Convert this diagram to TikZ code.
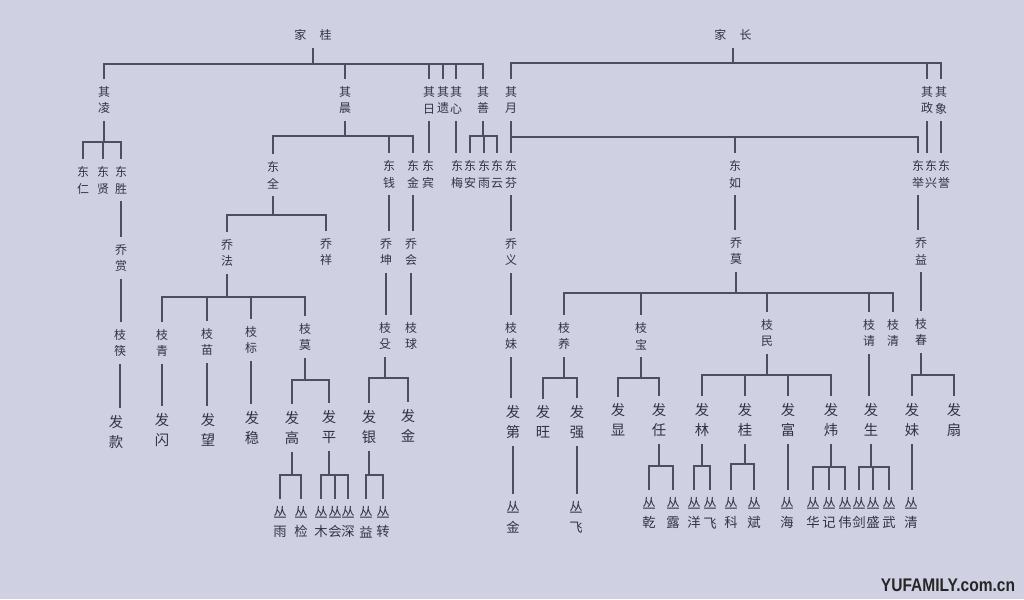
\documentclass[tikz,border=0pt]{standalone}
\usepackage{fontspec}
\setmainfont{Noto Sans CJK SC}
\newfontfamily\wmfont{Liberation Sans}
\usepackage{tikz}
\usetikzlibrary{positioning}
\definecolor{paperBlue}{RGB}{207, 209, 227}
\definecolor{inkGray}{RGB}{50, 50, 70}
\definecolor{lineGray}{RGB}{78, 78, 98}

\begin{document}
\begin{tikzpicture}[
    x=0.025cm, y=-0.025cm,
    % 上面几代的名字 (两字竖排)
    person/.style={
        text=inkGray,
        align=center,
        inner xsep=1pt,
        inner ysep=5pt,
        font=\fontsize{8.5}{12}\selectfont
    },
    % 发 / 丛 两代 (字大一点)
    personbig/.style={
        person,
        font=\fontsize{9.5}{14}\selectfont
    },
    % 发 字辈 (再大一点)
    personfa/.style={
        person,
        font=\fontsize{10.2}{14}\selectfont
    },
    % 连线
    link/.style={
        draw=lineGray,
        line width=0.9pt
    }
]

    % --- 0. 纸面背景 ---
    \useasboundingbox (0,0) rectangle (1024,599);
    \fill[paperBlue] (0,0) rectangle (1024,599);

    % --- 1. 两位家长 ---
    \node[person] (jiagui) at (313,35) {家\hspace{1.1em}桂};
    \node[person] (jiazhang) at (733,35) {家\hspace{1.1em}长};

    % --- 2. 其 字辈 ---
    \node[person] (qiling) at (104,100) {其\\凌};
    \node[person] (qichen) at (345,100) {其\\晨};
    \node[person] (qiri) at (429,100) {其\\日};
    \node[person] (qiyi) at (443,100) {其\\遗};
    \node[person] (qixin) at (456,100) {其\\心};
    \node[person] (qishan) at (483,100) {其\\善};
    \node[person] (qiyue) at (511,100) {其\\月};
    \node[person] (qizheng) at (927,100) {其\\政};
    \node[person] (qixiang) at (941,100) {其\\象};

    % --- 3. 东 字辈 ---
    \node[person] (dongren) at (83,180) {东\\仁};
    \node[person] (dongxian) at (103,180) {东\\贤};
    \node[person] (dongsheng) at (121,180) {东\\胜};
    \node[person] (dongquan) at (273,175) {东\\全};
    \node[person] (dongqian) at (389,174) {东\\钱};
    \node[person] (dongjin) at (413,174) {东\\金};
    \node[person] (dongbin) at (428,174) {东\\宾};
    \node[person] (dongmei) at (457,174) {东\\梅};
    \node[person] (dongan) at (470,174) {东\\安};
    \node[person] (dongyu) at (484,174) {东\\雨};
    \node[person] (dongyun) at (497,174) {东\\云};
    \node[person] (dongfen) at (511,174) {东\\芬};
    \node[person] (dongru) at (735,174) {东\\如};
    \node[person] (dongju) at (918,174) {东\\举};
    \node[person] (dongxing) at (931,174) {东\\兴};
    \node[person] (dongyuB) at (944,174) {东\\誉};

    % --- 4. 乔 字辈 ---
    \node[person] (qiaoshang) at (121,258) {乔\\赏};
    \node[person] (qiaofa) at (227,253) {乔\\法};
    \node[person] (qiaoxiang) at (326,252) {乔\\祥};
    \node[person] (qiaokun) at (386,252) {乔\\坤};
    \node[person] (qiaohui) at (411,252) {乔\\会};
    \node[person] (qiaoyi) at (511,252) {乔\\义};
    \node[person] (qiaomo) at (736,251) {乔\\莫};
    \node[person] (qiaoyiB) at (921,251) {乔\\益};

    % --- 5. 枝 字辈 ---
    \node[person] (zhikuai) at (120,343) {枝\\筷};
    \node[person] (zhiqing) at (162,343) {枝\\青};
    \node[person] (zhimiao) at (207,342) {枝\\苗};
    \node[person] (zhibiao) at (251,340) {枝\\标};
    \node[person] (zhimo) at (305,337) {枝\\莫};
    \node[person] (zhishu) at (385,336) {枝\\殳};
    \node[person] (zhiqiu) at (411,336) {枝\\球};
    \node[person] (zhimei) at (511,336) {枝\\妹};
    \node[person] (zhiyang) at (564,336) {枝\\养};
    \node[person] (zhibao) at (641,336) {枝\\宝};
    \node[person] (zhimin) at (767,333) {枝\\民};
    \node[person] (zhiqingB) at (869,333) {枝\\请};
    \node[person] (zhiqingC) at (893,333) {枝\\清};
    \node[person] (zhichun) at (921,332) {枝\\春};

    % --- 6. 发 字辈 ---
    \node[personfa] (fakuan) at (116,432) {发\\款};
    \node[personfa] (fashanA) at (162,430) {发\\闪};
    \node[personfa] (fawang) at (208,430) {发\\望};
    \node[personfa] (fawen) at (252,428) {发\\稳};
    \node[personfa] (fagao) at (292,428) {发\\高};
    \node[personfa] (faping) at (329,427) {发\\平};
    \node[personfa] (fayin) at (369,427) {发\\银};
    \node[personfa] (fajin) at (408,426) {发\\金};
    \node[personfa] (fadi) at (513,422) {发\\第};
    \node[personfa] (fawangB) at (543,422) {发\\旺};
    \node[personfa] (faqiang) at (577,422) {发\\强};
    \node[personfa] (faxian) at (618,420) {发\\显};
    \node[personfa] (faren) at (659,420) {发\\任};
    \node[personfa] (falin) at (702,420) {发\\林};
    \node[personfa] (fagui) at (745,420) {发\\桂};
    \node[personfa] (fafu) at (788,420) {发\\富};
    \node[personfa] (fawei) at (831,420) {发\\炜};
    \node[personfa] (fasheng) at (871,420) {发\\生};
    \node[personfa] (famei) at (912,420) {发\\妹};
    \node[personfa] (fashanB) at (954,420) {发\\扇};

    % --- 7. 丛 字辈 ---
    \node[personbig] (congyu) at (280,522) {丛\\雨};
    \node[personbig] (congjian) at (301,522) {丛\\检};
    \node[personbig] (congmu) at (321,522) {丛\\木};
    \node[personbig] (conghui) at (335,522) {丛\\会};
    \node[personbig] (congshen) at (348,522) {丛\\深};
    \node[personbig] (congyi) at (366,522) {丛\\益};
    \node[personbig] (congzhuan) at (383,522) {丛\\转};
    \node[personbig] (congjin) at (513,517) {丛\\金};
    \node[personbig] (congfei) at (576,517) {丛\\飞};
    \node[personbig] (congqian) at (649,513) {丛\\乾};
    \node[personbig] (conglu) at (673,513) {丛\\露};
    \node[personbig] (congyang) at (694,513) {丛\\洋};
    \node[personbig] (congfeiB) at (710,513) {丛\\飞};
    \node[personbig] (congke) at (731,513) {丛\\科};
    \node[personbig] (congbin) at (754,513) {丛\\斌};
    \node[personbig] (conghai) at (787,513) {丛\\海};
    \node[personbig] (conghua) at (813,513) {丛\\华};
    \node[personbig] (congji) at (829,513) {丛\\记};
    \node[personbig] (congwei) at (845,513) {丛\\伟};
    \node[personbig] (congjianB) at (859,513) {丛\\剑};
    \node[personbig] (congsheng) at (873,513) {丛\\盛};
    \node[personbig] (congwu) at (889,513) {丛\\武};
    \node[personbig] (congqing) at (911,513) {丛\\清};

    % --- 8. 连线: 家 -> 其 ---
    \coordinate (bJG) at (313,64);
    \draw[link] (jiagui.south) -- (bJG);
    \draw[link] (qiling.north) |- (bJG) -| (qishan.north);
    \draw[link] (qichen.north) -- (qichen.north |- bJG);
    \draw[link] (qiri.north) -- (qiri.north |- bJG);
    \draw[link] (qiyi.north) -- (qiyi.north |- bJG);
    \draw[link] (qixin.north) -- (qixin.north |- bJG);

    \coordinate (bJZ) at (733,63);
    \draw[link] (jiazhang.south) -- (bJZ);
    \draw[link] (qiyue.north) |- (bJZ) -| (qixiang.north);
    \draw[link] (qizheng.north) -- (qizheng.north |- bJZ);

    % --- 9. 连线: 其 -> 东 ---
    \coordinate (bQL) at (104,142);
    \draw[link] (qiling.south) -- (bQL);
    \draw[link] (dongren.north) |- (bQL) -| (dongsheng.north);
    \draw[link] (dongxian.north) -- (dongxian.north |- bQL);

    \coordinate (bQC) at (345,136);
    \draw[link] (qichen.south) -- (bQC);
    \draw[link] (dongquan.north) |- (bQC) -| (dongjin.north);
    \draw[link] (dongqian.north) -- (dongqian.north |- bQC);

    \draw[link] (qiri.south) -- (qiri.south |- dongbin.north);
    \draw[link] (qixin.south) -- (qixin.south |- dongmei.north);

    \coordinate (bQS) at (483,136);
    \draw[link] (qishan.south) -- (bQS);
    \draw[link] (dongan.north) |- (bQS) -| (dongyun.north);
    \draw[link] (dongyu.north) -- (dongyu.north |- bQS);

    \coordinate (bQY) at (511,137);
    \draw[link] (qiyue.south) -- (qiyue.south |- dongfen.north);
    \draw[link] (bQY) -| (dongju.north);
    \draw[link] (dongru.north) -- (dongru.north |- bQY);

    \draw[link] (qizheng.south) -- (qizheng.south |- dongxing.north);
    \draw[link] (qixiang.south) -- (qixiang.south |- dongyuB.north);

    % --- 10. 连线: 东 -> 乔 ---
    \draw[link] (dongsheng.south) -- (dongsheng.south |- qiaoshang.north);
    \coordinate (bDQ) at (273,215);
    \draw[link] (dongquan.south) -- (bDQ);
    \draw[link] (qiaofa.north) |- (bDQ) -| (qiaoxiang.north);
    \draw[link] (dongqian.south) -- (dongqian.south |- qiaokun.north);
    \draw[link] (dongjin.south) -- (dongjin.south |- qiaohui.north);
    \draw[link] (dongfen.south) -- (dongfen.south |- qiaoyi.north);
    \draw[link] (dongru.south) -- (dongru.south |- qiaomo.north);
    \draw[link] (dongju.south) -- (dongju.south |- qiaoyiB.north);

    % --- 11. 连线: 乔 -> 枝 ---
    \draw[link] (qiaoshang.south) -- (qiaoshang.south |- zhikuai.north);
    \coordinate (bQF) at (227,297);
    \draw[link] (qiaofa.south) -- (bQF);
    \draw[link] (zhiqing.north) |- (bQF) -| (zhimo.north);
    \draw[link] (zhimiao.north) -- (zhimiao.north |- bQF);
    \draw[link] (zhibiao.north) -- (zhibiao.north |- bQF);
    \draw[link] (qiaokun.south) -- (qiaokun.south |- zhishu.north);
    \draw[link] (qiaohui.south) -- (qiaohui.south |- zhiqiu.north);
    \draw[link] (qiaoyi.south) -- (qiaoyi.south |- zhimei.north);
    \coordinate (bQM) at (736,293);
    \draw[link] (qiaomo.south) -- (bQM);
    \draw[link] (zhiyang.north) |- (bQM) -| (zhiqingC.north);
    \draw[link] (zhibao.north) -- (zhibao.north |- bQM);
    \draw[link] (zhimin.north) -- (zhimin.north |- bQM);
    \draw[link] (zhiqingB.north) -- (zhiqingB.north |- bQM);
    \draw[link] (qiaoyiB.south) -- (qiaoyiB.south |- zhichun.north);

    % --- 12. 连线: 枝 -> 发 ---
    \draw[link] (zhikuai.south) -- (zhikuai.south |- fakuan.north);
    \draw[link] (zhiqing.south) -- (zhiqing.south |- fashanA.north);
    \draw[link] (zhimiao.south) -- (zhimiao.south |- fawang.north);
    \draw[link] (zhibiao.south) -- (zhibiao.south |- fawen.north);
    \coordinate (bZM) at (305,380);
    \draw[link] (zhimo.south) -- (bZM);
    \draw[link] (fagao.north) |- (bZM) -| (faping.north);
    \coordinate (bZS) at (385,378);
    \draw[link] (zhishu.south) -- (bZS);
    \draw[link] (fayin.north) |- (bZS) -| (fajin.north);
    \draw[link] (zhimei.south) -- (zhimei.south |- fadi.north);
    \coordinate (bZY) at (564,378);
    \draw[link] (zhiyang.south) -- (bZY);
    \draw[link] (fawangB.north) |- (bZY) -| (faqiang.north);
    \coordinate (bZB) at (641,378);
    \draw[link] (zhibao.south) -- (bZB);
    \draw[link] (faxian.north) |- (bZB) -| (faren.north);
    \coordinate (bZMin) at (767,375);
    \draw[link] (zhimin.south) -- (bZMin);
    \draw[link] (falin.north) |- (bZMin) -| (fawei.north);
    \draw[link] (fagui.north) -- (fagui.north |- bZMin);
    \draw[link] (fafu.north) -- (fafu.north |- bZMin);
    \draw[link] (zhiqingB.south) -- (zhiqingB.south |- fasheng.north);
    \coordinate (bZC) at (921,375);
    \draw[link] (zhichun.south) -- (bZC);
    \draw[link] (famei.north) |- (bZC) -| (fashanB.north);

    % --- 13. 连线: 发 -> 丛 ---
    \coordinate (bFG) at (292,475);
    \draw[link] (fagao.south) -- (bFG);
    \draw[link] (congyu.north) |- (bFG) -| (congjian.north);
    \coordinate (bFP) at (329,475);
    \draw[link] (faping.south) -- (bFP);
    \draw[link] (congmu.north) |- (bFP) -| (congshen.north);
    \draw[link] (conghui.north) -- (conghui.north |- bFP);
    \coordinate (bFY) at (369,475);
    \draw[link] (fayin.south) -- (bFY);
    \draw[link] (congyi.north) |- (bFY) -| (congzhuan.north);
    \draw[link] (fadi.south) -- (fadi.south |- congjin.north);
    \draw[link] (faqiang.south) -- (faqiang.south |- congfei.north);
    \coordinate (bFR) at (659,466);
    \draw[link] (faren.south) -- (bFR);
    \draw[link] (congqian.north) |- (bFR) -| (conglu.north);
    \coordinate (bFL) at (702,466);
    \draw[link] (falin.south) -- (bFL);
    \draw[link] (congyang.north) |- (bFL) -| (congfeiB.north);
    \coordinate (bFGui) at (745,464);
    \draw[link] (fagui.south) -- (bFGui);
    \draw[link] (congke.north) |- (bFGui) -| (congbin.north);
    \draw[link] (fafu.south) -- (fafu.south |- conghai.north);
    \coordinate (bFW) at (831,467);
    \draw[link] (fawei.south) -- (bFW);
    \draw[link] (conghua.north) |- (bFW) -| (congwei.north);
    \draw[link] (congji.north) -- (congji.north |- bFW);
    \coordinate (bFS) at (871,467);
    \draw[link] (fasheng.south) -- (bFS);
    \draw[link] (congjianB.north) |- (bFS) -| (congwu.north);
    \draw[link] (congsheng.north) -- (congsheng.north |- bFS);
    \draw[link] (famei.south) -- (famei.south |- congqing.north);

    % --- 14. 水印 ---
    \node[text=black!85, xscale=0.85, font={\wmfont\fontsize{13}{14}\selectfont\bfseries}] (wm) at (948,585) {YUFAMILY.com.cn};

\end{tikzpicture}
\end{document}
